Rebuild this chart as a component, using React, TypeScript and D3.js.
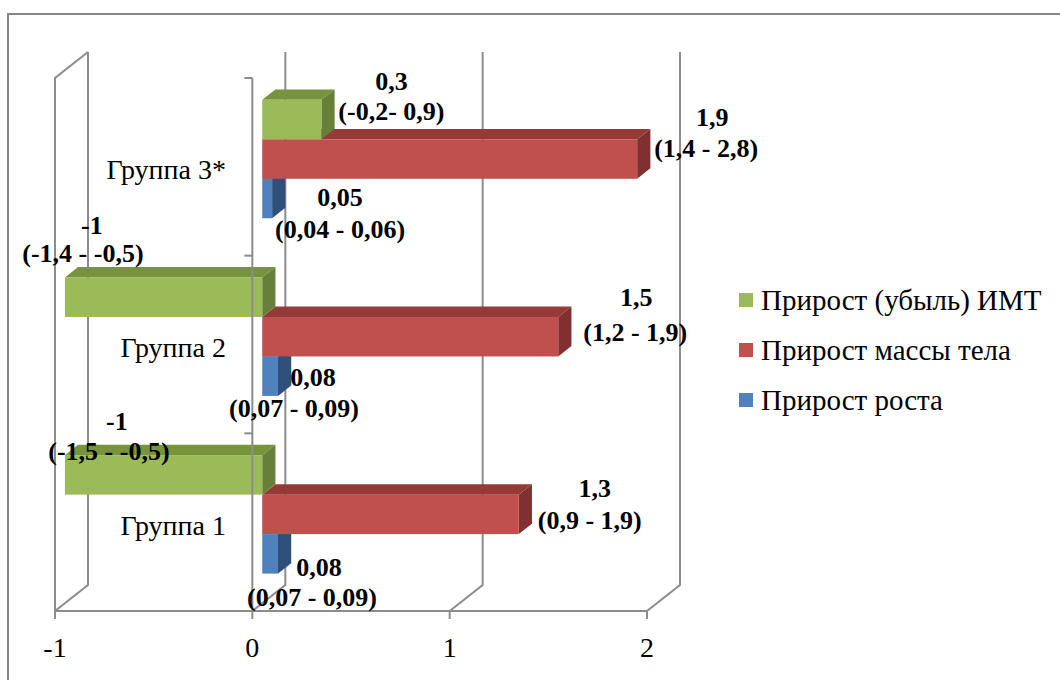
import React from "react";
import * as d3 from "d3";

// Groups, top to bottom
const categories = ["Группа 3*", "Группа 2", "Группа 1"];

// Series (legend order)
const seriesNames = ["Прирост (убыль) ИМТ", "Прирост массы тела", "Прирост роста"];
const seriesColors = [
  { front: "#9bbb59", top: "#77933c", side: "#66803a" },
  { front: "#c0504d", top: "#953a37", side: "#80302e" },
  { front: "#4f81bd", top: "#3b6494", side: "#2f5079" },
];

// Medians per group
const bmiGain = [0.3, -1, -1];
const weightGain = [1.9, 1.5, 1.3];
const heightGain = [0.05, 0.08, 0.08];

// Interquartile ranges shown under the medians
const bmiRange = ["(-0,2- 0,9)", "(-1,4 - -0,5)", "(-1,5 - -0,5)"];
const weightRange = ["(1,4 - 2,8)", "(1,2 - 1,9)", "(0,9 - 1,9)"];
const heightRange = ["(0,04 - 0,06)", "(0,07 - 0,09)", "(0,07 - 0,09)"];

const xTicks = [-1, 0, 1, 2];

// Label placement relative to the outer end of each bar: [line1 dx, dy], [line2 dx, dy]
const labelOffsets: number[][][][] = [
  [[[70, -38], [70, -8]], [[27, -72], [18, -44]], [[52, -53], [44, -23]]],
  [[[75, -42], [69, -11]], [[78, -39], [77, -4]], [[76, -26], [71, 6]]],
  [[[68, -1], [68, 31]], [[35, 1], [16, 32]], [[41, 14], [34, 44]]],
];

const W = 1060;
const H = 680;
const DX = 33; // depth offset of the back wall
const DY = -26;
const F0 = 0.3; // bar front depth fraction
const F1 = 0.7; // bar back depth fraction
const GRID = "#8c8c8c";
const serif: React.CSSProperties = {
  fontFamily: '"Liberation Serif", "DejaVu Serif", "Times New Roman", serif',
};

const fmt = (v: number) => String(v).replace(".", ",");

export default function App() {
  const x = d3.scaleLinear().domain([-1, 2]).range([55, 647]);
  const y = d3.scaleBand<string>().domain(categories).range([78, 611]);
  const bw = y.bandwidth();
  const inner = d3
    .scaleBand<number>()
    .domain([0, 1, 2])
    .range([bw / 6, (bw * 5) / 6]);

  const values = [bmiGain, weightGain, heightGain];
  const ranges = [bmiRange, weightRange, heightRange];

  const p = (px: number, py: number, f: number) => `${px + DX * f},${py + DY * f}`;

  const floorY = y.range()[1];
  const topY = y.range()[0];

  const bars: React.ReactNode[] = [];
  const labels: React.ReactNode[] = [];

  categories.forEach((cat, ci) => {
    // draw from the lowest bar up so upper front faces cover lower top faces
    [2, 1, 0].forEach((si) => {
      const v = values[si][ci];
      const x0 = x(Math.min(0, v));
      const x1 = x(Math.max(0, v));
      const y0 = (y(cat) as number) + (inner(si) as number);
      const y1 = y0 + inner.bandwidth();
      const c = seriesColors[si];
      bars.push(
        <g key={`b-${ci}-${si}`}>
          <polygon
            points={[p(x0, y0, F0), p(x0, y0, F1), p(x1, y0, F1), p(x1, y0, F0)].join(" ")}
            fill={c.top}
          />
          <polygon
            points={[p(x1, y0, F0), p(x1, y0, F1), p(x1, y1, F1), p(x1, y1, F0)].join(" ")}
            fill={c.side}
          />
          <rect
            x={x0 + DX * F0}
            y={y0 + DY * F0}
            width={x1 - x0}
            height={y1 - y0}
            fill={c.front}
          />
        </g>
      );

      const endX = (v < 0 ? x0 : x1) + DX * F0;
      const midY = (y0 + y1) / 2 + DY * F0;
      const off = labelOffsets[si][ci];
      labels.push(
        <g key={`l-${ci}-${si}`} style={serif} fontWeight="bold" fontSize={26} fill="#000" textAnchor="middle">
          <text x={endX + off[0][0]} y={midY + off[0][1]} dominantBaseline="central" style={serif}>
            {fmt(v)}
          </text>
          <text x={endX + off[1][0]} y={midY + off[1][1]} dominantBaseline="central" style={serif}>
            {ranges[si][ci]}
          </text>
        </g>
      );
    });
  });

  return (
    <svg
      width={W}
      height={H}
      style={{ position: "absolute", left: 0, top: 0, background: "#fff" }}
    >
      {/* chart frame */}
      <path d={`M8,${H + 5} L8,14 L${W + 5},14`} fill="none" stroke="#868686" strokeWidth={2} />

      {/* back wall gridlines and floor receding lines */}
      {xTicks.map((t) => (
        <path
          key={`g-${t}`}
          d={`M${x(t)},${floorY} L${x(t) + DX},${floorY + DY} L${x(t) + DX},${topY + DY}`}
          fill="none"
          stroke={GRID}
          strokeWidth={2}
        />
      ))}

      {/* left side wall */}
      <path
        d={`M${x(-1)},${floorY} L${x(-1)},${topY} L${x(-1) + DX},${topY + DY}`}
        fill="none"
        stroke={GRID}
        strokeWidth={2}
      />

      {bars}

      {/* category axis */}
      <line x1={x(0)} x2={x(0)} y1={topY} y2={floorY} stroke={GRID} strokeWidth={2} />
      {[...categories.map((c) => y(c) as number), floorY].map((ty, i) => (
        <line key={`ct-${i}`} x1={x(0) - 8} x2={x(0)} y1={ty} y2={ty} stroke={GRID} strokeWidth={2} />
      ))}
      {categories.map((c) => (
        <text
          key={`cl-${c}`}
          x={226}
          y={(y(c) as number) + bw / 2 + 3}
          textAnchor="end"
          dominantBaseline="central"
          style={serif}
          fontSize={28}
          fill="#000"
        >
          {c}
        </text>
      ))}

      {/* value axis */}
      <line x1={x(-1)} x2={x(2)} y1={floorY} y2={floorY} stroke={GRID} strokeWidth={2} />
      {xTicks.map((t) => (
        <g key={`xt-${t}`}>
          <line x1={x(t)} x2={x(t)} y1={floorY} y2={floorY + 8} stroke={GRID} strokeWidth={2} />
          <text
            x={x(t)}
            y={floorY + 36}
            textAnchor="middle"
            dominantBaseline="central"
            style={serif}
            fontSize={28}
            fill="#000"
          >
            {fmt(t)}
          </text>
        </g>
      ))}

      {labels}

      {/* legend */}
      {seriesNames.map((name, i) => (
        <g key={`lg-${i}`} transform={`translate(739, ${300 + i * 50})`}>
          <rect x={0} y={-7} width={14} height={14} fill={seriesColors[i].front} />
          <text x={22} y={0} dominantBaseline="central" style={serif} fontSize={29} fill="#000">
            {name}
          </text>
        </g>
      ))}
    </svg>
  );
}
